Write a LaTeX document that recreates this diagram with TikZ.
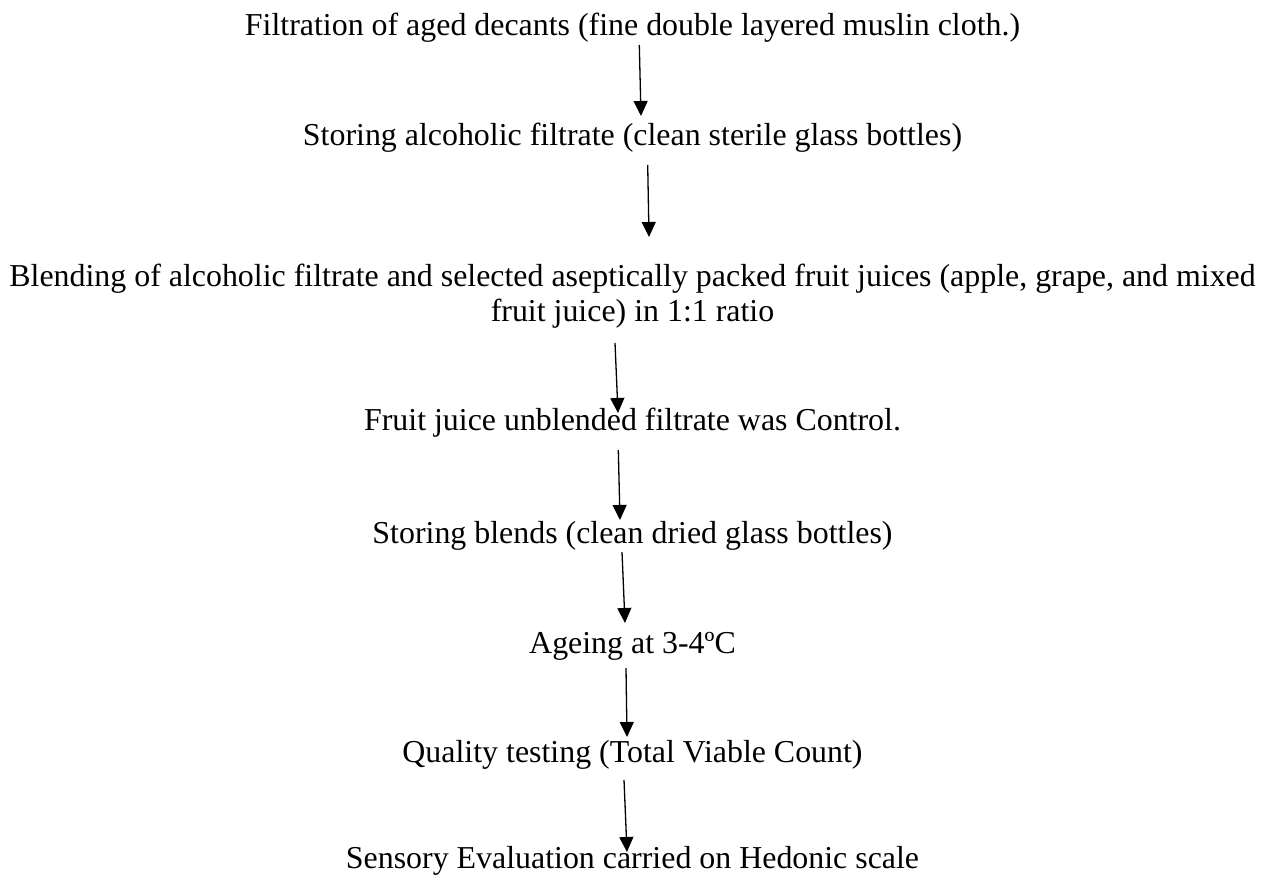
\documentclass[tikz,border=0pt]{standalone}
\usepackage{fontspec}
\setmainfont{Liberation Serif}
\usetikzlibrary{arrows.meta,calc}
\begin{document}
\begin{tikzpicture}[x=1pt,y=-1pt,
  lbl/.style={anchor=base,inner sep=0pt,font=\fontsize{31.9}{35}\selectfont,align=center},
  flow/.style={line width=1.3pt,-{Triangle[length=15pt,width=14pt]}}]
\useasboundingbox (0,0) rectangle (1261,878);
\node[lbl] (t1) at (632.5,35) {Filtration of aged decants (fine double layered muslin cloth.)};
\node[lbl] (t2) at (632.5,145) {Storing alcoholic filtrate (clean sterile glass bottles)};
\node[lbl] (t3a) at (632.5,286) {Blending of alcoholic filtrate and selected aseptically packed fruit juices (apple, grape, and mixed};
\node[lbl] (t3b) at (632.5,321) {fruit juice) in 1:1 ratio};
\node[lbl] (t4) at (632.5,430) {Fruit juice unblended filtrate was Control.};
\node[lbl] (t5) at (632.5,543) {Storing blends (clean dried glass bottles)};
\node[lbl] (t6) at (632.5,653) {Ageing at 3-4ºC};
\node[lbl] (t7) at (632.5,762) {Quality testing (Total Viable Count)};
\node[lbl] (t8) at (632.5,868) {Sensory Evaluation carried on Hedonic scale};
\coordinate (a1s) at (639.3,45);  \coordinate (a1e) at (641,116);
\coordinate (a2s) at (647.7,165); \coordinate (a2e) at (649,237);
\coordinate (a3s) at (615,343);   \coordinate (a3e) at (618,413);
\coordinate (a4s) at (618.3,450); \coordinate (a4e) at (620,520);
\coordinate (a5s) at (622,552);   \coordinate (a5e) at (625,623);
\coordinate (a6s) at (626,668);   \coordinate (a6e) at (627,737);
\coordinate (a7s) at (624,780);   \coordinate (a7e) at (627,852);
\draw[flow] (a1s) -- (a1e);
\draw[flow] (a2s) -- (a2e);
\draw[flow] (a3s) -- (a3e);
\draw[flow] (a4s) -- (a4e);
\draw[flow] (a5s) -- (a5e);
\draw[flow] (a6s) -- (a6e);
\draw[flow] (a7s) -- (a7e);
\end{tikzpicture}
\end{document}
